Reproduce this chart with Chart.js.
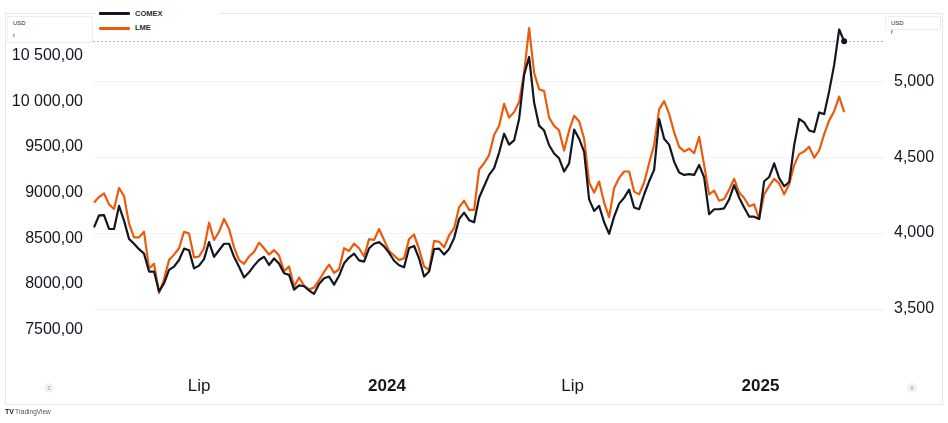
<!DOCTYPE html>
<html>
<head>
<meta charset="utf-8">
<script src="https://cdn.jsdelivr.net/npm/chart.js@4.4.1/dist/chart.umd.min.js"></script>
<style>
  body { margin: 0; background: #fff; }
  #wrap { position: relative; width: 948px; height: 423px; font-family: "Liberation Sans", Arial, sans-serif; }
  #frame { position: absolute; left: 5px; top: 13px; width: 936px; height: 390px; border: 1px solid #e6e8ee; }
  #chart { position: absolute; left: 0; top: 0; }
  .ov { position: absolute; z-index: 3; }
  #legend { left: 96px; top: 0; width: 124px; height: 33px; background: #fff; }
  .lg-line { position: absolute; left: 3px; width: 31px; height: 3px; border-radius: 1px; }
  .lg-text { position: absolute; left: 39px; font-size: 7.5px; font-weight: bold; color: #2a2e39; }
  .unit { background: #fff; border: 1px solid #eceef2; border-radius: 2px; font-size: 6px; color: #2a2e39; }
  .unit span { position: absolute; left: 5px; }
  .circ { width: 10px; height: 10px; border-radius: 50%; background: #f1f2f4; color: #9598a1;
          font-size: 5px; line-height: 10px; text-align: center; }
  #logo { left: 5px; top: 408px; font-size: 6.5px; color: #50535e; }
  #logo b { font-size: 7px; color: #131722; margin-right: 1px; }
</style>
</head>
<body>
<div id="wrap">
  <div id="frame"></div>
  <canvas id="chart" width="948" height="423"></canvas>
  <div id="legend" class="ov"></div>
  <div class="ov unit" style="left:7px;top:16px;width:84px;height:25px;"><span style="top:3px">USD</span><span style="top:15px">t</span></div>
  <div class="ov unit" style="left:885px;top:16px;width:54px;height:12px;"><span style="top:3px">USD</span></div>
  <div class="ov" style="left:891px;top:29px;font-size:6px;color:#2a2e39;">f</div>
  <div class="ov circ" style="left:44px;top:383px;">Z</div>
  <div class="ov circ" style="left:907px;top:383px;">A</div>
  <div id="logo" class="ov"><b>TV</b>TradingView</div>
</div>
<script>
// sampling grid: one reading about every 4.9 days
var startDate = "2023-03-20";
var stepDays = 4.9;

// LME copper, USD/t (left axis)
var lmeUsdT = [
  8890, 8950, 8990, 8870, 8820, 9050, 8960, 8660, 8510, 8510,
  8570, 8170, 8220, 7900, 8050, 8260, 8320, 8390, 8570, 8550,
  8290, 8300, 8390, 8670, 8480, 8570, 8710, 8600, 8400, 8260,
  8220, 8300, 8350, 8450, 8390, 8320, 8370, 8310, 8140, 8190,
  7970, 8070, 7980, 7940, 7960, 8040, 8130, 8210, 8120, 8160,
  8390, 8360, 8440, 8390, 8300, 8490, 8480, 8600, 8480, 8360,
  8310, 8260, 8280, 8490, 8540, 8380, 8190, 8150, 8470, 8460,
  8400, 8530, 8610, 8840, 8910, 8810, 8810, 9250, 9320, 9410,
  9630, 9730, 9970, 9820, 9880, 9990, 10310, 10800, 10310, 10130,
  10110, 9820, 9730, 9680, 9460, 9680, 9840, 9780, 9590, 9110,
  9000, 9120, 8890, 8730, 9050, 9160, 9230, 9230, 9010, 8980,
  9110, 9320, 9520, 9910, 10000, 9860, 9660, 9500, 9450, 9480,
  9430, 9610, 9300, 8980, 9020, 8910, 8930, 9030, 9150, 9000,
  8940, 8850, 8870, 8710, 8980, 9070, 9150, 9100, 8980, 9090,
  9300, 9420, 9450, 9500, 9380, 9460, 9640, 9790, 9890, 10050,
  9880
];

// COMEX copper, USD/lb (right axis)
var comexUsdLb = [
  4.038, 4.116, 4.118, 4.027, 4.027, 4.179, 4.082, 3.962, 3.930, 3.894,
  3.865, 3.747, 3.747, 3.617, 3.669, 3.758, 3.779, 3.823, 3.898, 3.887,
  3.768, 3.786, 3.829, 3.941, 3.844, 3.887, 3.930, 3.930, 3.844, 3.779,
  3.708, 3.742, 3.786, 3.823, 3.844, 3.790, 3.833, 3.799, 3.736, 3.725,
  3.628, 3.656, 3.650, 3.622, 3.600, 3.665, 3.703, 3.714, 3.661, 3.719,
  3.801, 3.839, 3.865, 3.820, 3.812, 3.900, 3.930, 3.941, 3.913, 3.870,
  3.818, 3.788, 3.775, 3.902, 3.915, 3.833, 3.714, 3.747, 3.894, 3.898,
  3.859, 3.896, 3.967, 4.092, 4.135, 4.085, 4.071, 4.233, 4.308, 4.383,
  4.427, 4.530, 4.654, 4.582, 4.610, 4.751, 5.042, 5.159, 4.859, 4.707,
  4.675, 4.578, 4.524, 4.492, 4.405, 4.459, 4.681, 4.621, 4.535, 4.222,
  4.146, 4.179, 4.071, 3.995, 4.108, 4.194, 4.233, 4.286, 4.168, 4.157,
  4.254, 4.341, 4.416, 4.751, 4.621, 4.582, 4.470, 4.399, 4.383, 4.388,
  4.383, 4.448, 4.367, 4.124, 4.157, 4.157, 4.163, 4.222, 4.315, 4.233,
  4.168, 4.109, 4.108, 4.092, 4.341, 4.369, 4.459, 4.362, 4.308, 4.336,
  4.578, 4.751, 4.729, 4.675, 4.665, 4.794, 4.783, 4.934, 5.107, 5.340,
  5.262
];

var leftTicks = [7500, 8000, 8500, 9000, 9500, 10000, 10500];
var rightTicks = [3.5, 4.0, 4.5, 5.0];
var timeTicks = ["2023-07-01", "2024-01-01", "2024-07-01", "2025-01-01"];
var timeTickLabels = ["Lip", "2024", "Lip", "2025"];

var FONT = '"Liberation Sans", Arial, sans-serif';
var INK = "#131722";

function dayOf(d) {
  return (new Date(d) - new Date(startDate)) / 86400000;
}
function toPoints(arr) {
  return arr.map(function (v, i) { return { x: i * stepDays, y: v }; });
}
function fmtLeft(v) {
  var s = v.toFixed(2).replace(".", ",");
  if (v >= 10000) s = s.slice(0, s.length - 6) + " " + s.slice(-6);
  return s;
}
function fmtRight(v) {
  return v.toFixed(3).replace(".", ",");
}

var series = [
  { label: "COMEX", data: comexUsdLb, axis: "y2", color: "#131722" },
  { label: "LME", data: lmeUsdT, axis: "y", color: "#ec5b0b" }
];

// last-price dashed line for COMEX
var priceLine = {
  id: "priceLine",
  beforeDatasetsDraw: function (chart) {
    var c = chart.ctx, a = chart.chartArea;
    var y = chart.scales.y2.getPixelForValue(comexUsdLb[comexUsdLb.length - 1]);
    c.save();
    c.strokeStyle = "#b2b5be";
    c.lineWidth = 1;
    c.setLineDash([2, 2]);
    c.beginPath();
    c.moveTo(a.left, Math.round(y) + 0.5);
    c.lineTo(a.right, Math.round(y) + 0.5);
    c.stroke();
    c.restore();
  }
};

var lastIdx = comexUsdLb.length - 1;

new Chart(document.getElementById("chart").getContext("2d"), {
  type: "line",
  data: {
    datasets: series.map(function (s) {
      return {
        label: s.label,
        data: toPoints(s.data),
        yAxisID: s.axis,
        borderColor: s.color,
        backgroundColor: s.color,
        borderWidth: 2.2,
        borderJoinStyle: "round",
        tension: 0,
        pointRadius: function (ctx) {
          return s.label === "COMEX" && ctx.dataIndex === lastIdx ? 3 : 0;
        },
        pointBorderWidth: 0
      };
    })
  },
  options: {
    responsive: false,
    animation: false,
    events: [],
    layout: { padding: { top: 14, left: 0, right: 0, bottom: 0 } },
    plugins: { legend: { display: false }, tooltip: { enabled: false } },
    scales: {
      x: {
        type: "linear",
        min: -1,
        max: 775,
        grid: { display: false, drawTicks: false },
        border: { display: false },
        afterBuildTicks: function (s) {
          s.ticks = timeTicks.map(function (d) { return { value: dayOf(d) }; });
        },
        afterFit: function (s) { s.height = 53; },
        ticks: {
          autoSkip: false,
          maxRotation: 0,
          padding: 6,
          color: INK,
          callback: function (v, i) { return timeTickLabels[i]; },
          font: function (c) {
            var bold = /^\d/.test(timeTickLabels[c.index] || "");
            return { family: FONT, size: 17, weight: bold ? "bold" : "normal" };
          }
        }
      },
      y: {
        position: "left",
        min: 7057,
        max: 10893,
        grid: { display: false, drawTicks: false },
        border: { display: false },
        afterBuildTicks: function (s) {
          s.ticks = leftTicks.map(function (v) { return { value: v }; });
        },
        afterFit: function (s) { s.width = 93; },
        ticks: { padding: 10, color: INK, font: { family: FONT, size: 16 }, callback: fmtLeft }
      },
      y2: {
        position: "right",
        min: 3.099,
        max: 5.405,
        grid: { color: "#f2f3f6", drawTicks: false },
        border: { display: false },
        afterBuildTicks: function (s) {
          s.ticks = rightTicks.map(function (v) { return { value: v }; });
        },
        afterFit: function (s) { s.width = 63; },
        ticks: { padding: 9, color: INK, font: { family: FONT, size: 16 }, callback: fmtRight }
      }
    }
  },
  plugins: [priceLine]
});

// legend, built from the same series list
var legend = document.getElementById("legend");
series.forEach(function (s, i) {
  var top = 12 + i * 14.5;
  var line = document.createElement("div");
  line.className = "lg-line";
  line.style.top = top + "px";
  line.style.background = s.color;
  var txt = document.createElement("div");
  txt.className = "lg-text";
  txt.style.top = (top - 3.5) + "px";
  txt.textContent = s.label;
  legend.appendChild(line);
  legend.appendChild(txt);
});
</script>
</body>
</html>
